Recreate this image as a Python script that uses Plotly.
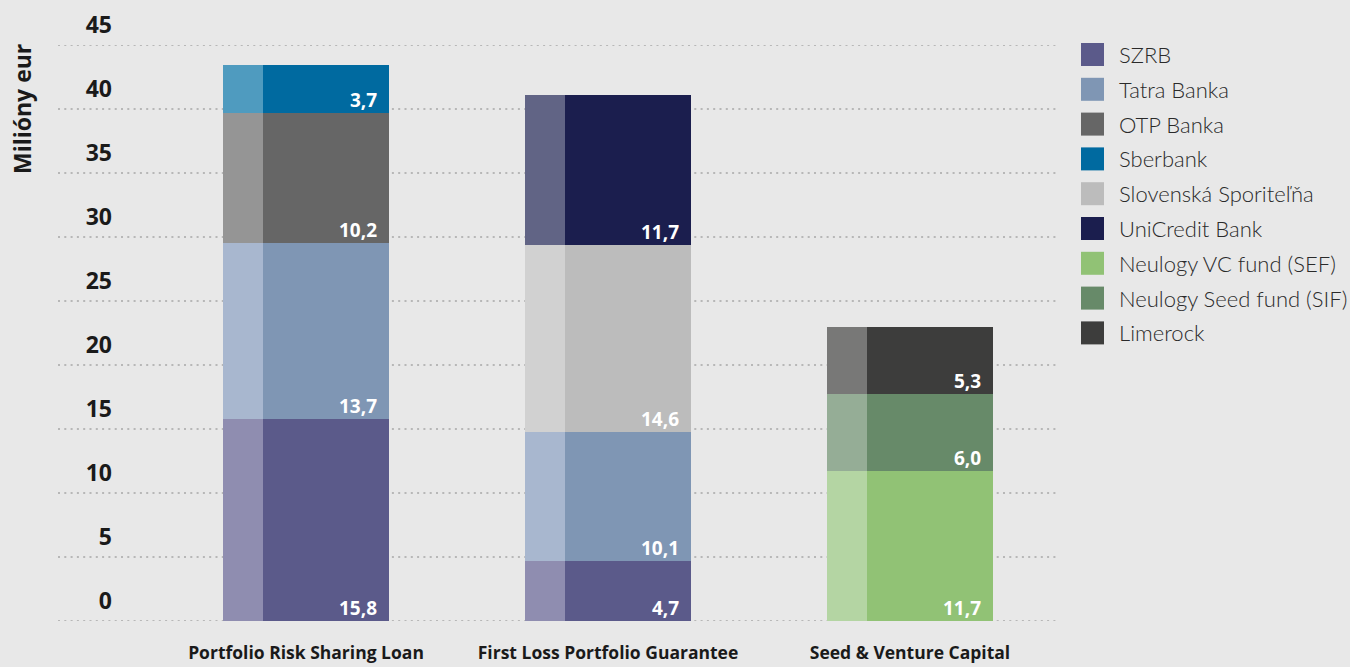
import plotly.graph_objects as go

# ---------------- data ----------------
categories = ["Portfolio Risk Sharing Loan", "First Loss Portfolio Guarantee", "Seed & Venture Capital"]
series_names = ["SZRB", "Tatra Banka", "OTP Banka", "Sberbank", "Slovenská Sporiteľňa",
                "UniCredit Bank", "Neulogy VC fund (SEF)", "Neulogy Seed fund (SIF)", "Limerock"]
szrb = [15.8, 4.7, None]
tatra_banka = [13.7, 10.1, None]
otp_banka = [10.2, None, None]
sberbank = [3.7, None, None]
slovenska_sporitelna = [None, 14.6, None]
unicredit_bank = [None, 11.7, None]
neulogy_vc = [None, None, 11.7]
neulogy_seed = [None, None, 6.0]
limerock = [None, None, 5.3]
series_values = [szrb, tatra_banka, otp_banka, sberbank, slovenska_sporitelna,
                 unicredit_bank, neulogy_vc, neulogy_seed, limerock]
y_ticks = list(range(0, 50, 5))

# ---------------- styles ----------------
dark_colors = ["#5b5a8a", "#7f96b4", "#666666", "#006aa0", "#bcbcbc",
               "#1b1e4e", "#91c275", "#678a69", "#3d3d3c"]
light_colors = ["#8f8db0", "#a8b7cf", "#959595", "#4f9bbf", "#d1d1d1",
                "#616485", "#b4d5a3", "#95ad96", "#787877"]
BG = "#e8e8e8"
W, H = 1350, 667
PL, PR, PT, PB = 155, 1061, 45, 621


def px(x):
    return (x - PL) / (PR - PL)


def py(y):
    return (PB - y) / (PB - PT)


fig = go.Figure()

# dark main bars
for name, vals, col in zip(series_names, series_values, dark_colors):
    fig.add_trace(go.Bar(
        x=categories, y=vals, name=name, marker=dict(color=col, line=dict(width=0)),
        offset=-0.144, width=0.4195, xaxis="x", yaxis="y", showlegend=False,
        hoverinfo="name+y"))

# lighter left strips
for name, vals, col in zip(series_names, series_values, light_colors):
    fig.add_trace(go.Bar(
        x=categories, y=vals, name=name, marker=dict(color=col, line=dict(width=0)),
        offset=-0.2765, width=0.1325, xaxis="x2", yaxis="y", showlegend=False,
        hoverinfo="skip"))

# value labels at the bottom-right of each segment
annotations = []
base = [0.0] * len(categories)
for vals in series_values:
    for i, v in enumerate(vals):
        if v is None:
            continue
        annotations.append(dict(
            x=i, y=base[i], xref="x", yref="y", xanchor="right", yanchor="bottom",
            xshift=73, yshift=-2, showarrow=False,
            text=f"{v:.1f}".replace(".", ","),
            font=dict(family="Open Sans", size=19, color="white", weight="bold")))
        base[i] += v

# y axis title
annotations.append(dict(
    x=px(22), y=py(109), xref="paper", yref="paper", showarrow=False,
    text="Milióny eur", textangle=-90, xanchor="center", yanchor="middle",
    font=dict(family="Open Sans", size=23, color="#1a1a1a", weight="bold")))

# manual legend
shapes = []
for k, (name, col) in enumerate(zip(series_names, dark_colors)):
    cy = 54.5 + k * 34.8
    shapes.append(dict(type="rect", xref="paper", yref="paper",
                       x0=px(1081), x1=px(1104), y0=py(cy + 11.5), y1=py(cy - 11.5),
                       fillcolor=col, line=dict(width=0), layer="above"))
    annotations.append(dict(
        x=px(1117), y=py(cy), xref="paper", yref="paper", xanchor="left", yanchor="middle",
        showarrow=False, text=name,
        font=dict(family="Lato", size=22, color="#2a2a2a", weight=300)))

# dotted gridlines (extend left past the tick labels)
for t in y_ticks:
    shapes.append(dict(type="line", xref="paper", yref="y", x0=px(58), x1=px(1056),
                       y0=t, y1=t, layer="below",
                       line=dict(color="#a6a6a6", width=1.6, dash="2px,4.3px")))

fig.update_layout(
    width=W, height=H,
    margin=dict(l=PL, r=W - PR, t=PT, b=H - PB, pad=0, autoexpand=False),
    paper_bgcolor=BG, plot_bgcolor=BG,
    barmode="stack", bargap=0,
    showlegend=False,
    xaxis=dict(range=[-0.5, 2.5], showgrid=False, zeroline=False, showline=False,
               automargin=False, ticks="", ticklabelstandoff=19,
               tickfont=dict(family="Open Sans", size=17.5, color="#1a1a1a", weight="bold")),
    xaxis2=dict(range=[-0.5, 2.5], overlaying="x", visible=False, automargin=False,
                categoryorder="array", categoryarray=categories),
    yaxis=dict(range=[0, 45], showgrid=False, zeroline=False, showline=False,
               automargin=False, tickvals=y_ticks, ticks="", ticklabelstandoff=42,
               ticklabelshift=-20,
               tickfont=dict(family="Open Sans", size=23, color="#1a1a1a", weight="bold")),
    shapes=shapes,
    annotations=annotations,
)

fig.write_html("out.html", config={"displayModeBar": False},
               post_script="document.body.style.margin='0';document.body.style.overflow='hidden';")
